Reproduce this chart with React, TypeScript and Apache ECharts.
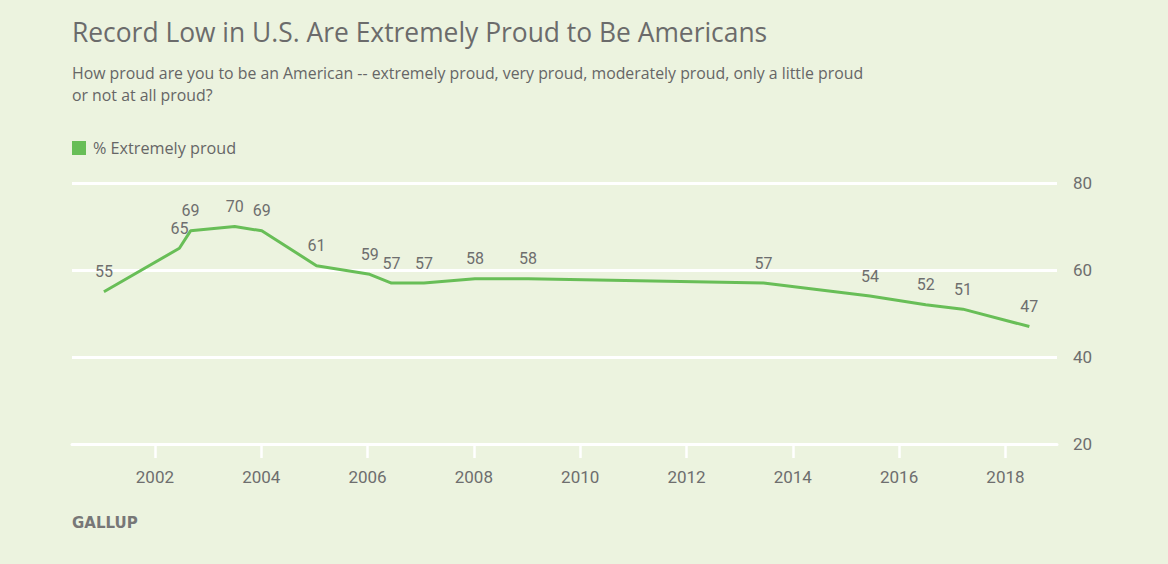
import React, { useEffect, useRef } from "react";
import * as echarts from "echarts";

const titleText = "Record Low in U.S. Are Extremely Proud to Be Americans";
const subtitleLine1 =
  "How proud are you to be an American -- extremely proud, very proud, moderately proud, only a little proud";
const subtitleLine2 = "or not at all proud?";
const seriesName = "% Extremely proud";
const sourceText = "GALLUP";

const surveyYears = [
  2001.04, 2002.46, 2002.67, 2003.5, 2004.01, 2005.04, 2006.04, 2006.45, 2007.06,
  2008.02, 2009.02, 2013.45, 2015.45, 2016.5, 2017.2, 2018.45,
];
const extremelyProud = [55, 65, 69, 70, 69, 61, 59, 57, 57, 58, 58, 57, 54, 52, 51, 47];
const xTickYears = [2002, 2004, 2006, 2008, 2010, 2012, 2014, 2016, 2018];
const yMin = 20;
const yMax = 80;
const yStep = 20;

const FONT = "'Open Sans', Roboto, sans-serif";
const NUMFONT = "Roboto, 'Open Sans', sans-serif";
const BG = "#ecf3df";
const GREEN = "#68be57";

export default function App() {
  const ref = useRef<HTMLDivElement>(null);

  useEffect(() => {
    document.body.style.margin = "0";
    document.body.style.background = BG;
    if (!ref.current) return;
    const chart = echarts.init(ref.current, null, { renderer: "svg" });
    const data = surveyYears.map((y, i) => [y, extremelyProud[i]]);
    chart.setOption({
      animation: false,
      backgroundColor: BG,
      textStyle: { fontFamily: FONT },
      grid: { left: 72, right: 111, top: 183, bottom: 120, containLabel: false },
      legend: {
        left: 72,
        top: 140,
        padding: 0,
        icon: "rect",
        itemWidth: 14,
        itemHeight: 14,
        textStyle: { fontSize: 16.2, color: "#666666", fontFamily: FONT, padding: [0, 0, 0, 2] },
        data: [seriesName],
      },
      xAxis: {
        type: "value",
        min: 2000.44,
        max: 2018.97,
        splitLine: { show: false },
        axisLine: { show: true, lineStyle: { color: "#ffffff", width: 3 } },
        axisTick: {
          show: true,
          customValues: xTickYears,
          length: 14,
          lineStyle: { color: "#ffffff", width: 2.5 },
        },
        axisLabel: {
          customValues: xTickYears,
          formatter: (v: number) => String(Math.round(v)),
          fontSize: 17,
          color: "#6e6e6e",
          margin: 24,
          fontFamily: NUMFONT,
        },
      },
      yAxis: {
        type: "value",
        position: "right",
        min: yMin,
        max: yMax,
        interval: yStep,
        axisLine: { show: false },
        axisTick: { show: false },
        splitLine: { show: true, lineStyle: { color: "#ffffff", width: 3 } },
        axisLabel: { fontSize: 17, color: "#6e6e6e", margin: 16, fontFamily: NUMFONT },
      },
      series: [
        {
          name: seriesName,
          type: "line",
          data,
          color: GREEN,
          symbol: "circle",
          symbolSize: 0,
          showSymbol: true,
          lineStyle: { color: GREEN, width: 3 },
          itemStyle: { color: GREEN },
          label: {
            show: true,
            position: "top",
            distance: 12,
            fontSize: 16,
            color: "#6e6e6e",
            fontFamily: NUMFONT,
            formatter: (p: any) => String(p.value[1]),
          },
        },
      ],
      graphic: [
        {
          type: "text",
          x: 72,
          y: 32,
          style: {
            text: titleText,
            fontSize: 26.4,
            fill: "#6b6b6b",
            fontFamily: FONT,
            verticalAlign: "middle",
          },
        },
        {
          type: "text",
          x: 72,
          y: 73,
          style: {
            text: subtitleLine1,
            fontSize: 15.85,
            fill: "#666666",
            fontFamily: FONT,
            verticalAlign: "middle",
          },
        },
        {
          type: "text",
          x: 72,
          y: 95,
          style: {
            text: subtitleLine2,
            fontSize: 15.85,
            fill: "#666666",
            fontFamily: FONT,
            verticalAlign: "middle",
          },
        },
        {
          type: "text",
          x: 72,
          y: 523,
          style: {
            text: sourceText,
            fontSize: 15,
            fontWeight: "bold",
            fill: "#777777",
            fontFamily: "'DejaVu Sans', sans-serif",
            verticalAlign: "middle",
          },
        },
      ],
    });
    return () => chart.dispose();
  }, []);

  return <div ref={ref} style={{ width: 1168, height: 564 }} />;
}
